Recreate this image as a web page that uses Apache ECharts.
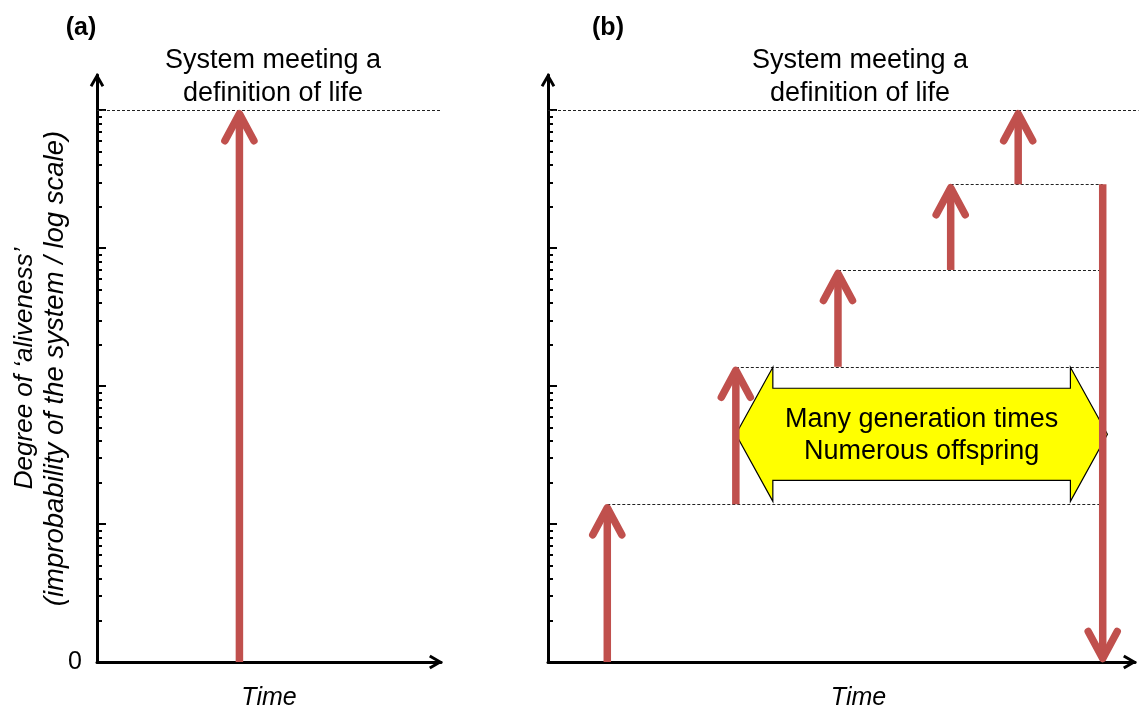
<!DOCTYPE html>
<html><head><meta charset="utf-8">
<script src="https://cdn.jsdelivr.net/npm/echarts@6/dist/echarts.min.js"></script>
<style>html,body{margin:0;padding:0;background:#fff}#c{width:1139px;height:708px}</style>
</head><body><div id="c"></div>
<script>
const FONT = "'Liberation Sans', Arial, sans-serif";
const RED = '#C0504D';

// ---- axis scale (degree of aliveness, log scale) ----
const yMin = 1;
const yMax = 18000;
const lifeThreshold = 10000;
const majorTicks = [10, 100, 1000, 10000];
const minorTicks = [2,3,4,5,6,7,8,9, 20,30,40,50,60,70,80,90, 200,300,400,500,600,700,800,900, 2000,3000,4000,5000,6000,7000,8000,9000];
const zeroLabel = [1];

// ---- panel (a) ----
const aArrowTime = [41.4];
const aArrowFrom = [1];
const aArrowTo = [10000];

// ---- panel (b) ----
const bArrowTime = [10.1, 32.0, 49.4, 68.6, 80.1, 94.5];
const bArrowFrom = [1, 13.9, 138, 695, 2904, 2904];
const bArrowTo   = [13.9, 138, 695, 2904, 10000, 1];
const bLevelStart = [10.1, 32.0, 49.4, 68.6];
const bLevelValue = [13.9, 138, 695, 2904];
const bLevelEnd = 94.5;
const bYellowX = [32.0, 95.3];
const bYellowY = [137, 14.6];
const yellowText = 'Many generation times\nNumerous offspring';

const arrowPath = 'path://M0,13 L7.5,0 L15,13 L12.4,14.6 L7.5,6 L2.6,14.6 Z';

function axisLineCfg() {
  return { show: true, onZero: false, symbol: ['none', arrowPath], symbolSize: [15, 14], symbolOffset: [0, -5],
           lineStyle: { color: '#000', width: 3 } };
}

function xAxisCfg(grid, shift) {
  return {
    type: 'value', gridIndex: grid, min: 0, max: 100,
    axisLine: axisLineCfg(), axisTick: { show: false }, axisLabel: { show: false }, splitLine: { show: false },
    name: 'Time', nameLocation: 'middle', nameGap: 24, nameMoveOverlap: false,
    nameTextStyle: { fontStyle: 'italic', fontSize: 25, fontFamily: FONT, color: '#000', padding: [0, 0, 0, shift] }
  };
}

function yMajor(grid, withName) {
  return {
    type: 'log', logBase: 10, gridIndex: grid, min: yMin, max: yMax, position: 'left',
    axisLine: axisLineCfg(),
    axisTick: { show: true, inside: true, length: 9, customValues: majorTicks, lineStyle: { color: '#000', width: 2 } },
    axisLabel: withName ? { show: true, customValues: zeroLabel, formatter: function () { return '0'; },
                            fontSize: 25, fontFamily: FONT, color: '#000', margin: 15 } : { show: false },
    splitLine: { show: false }, minorTick: { show: false },
    name: withName ? '{a|Degree of \u2018aliveness\u2019}\n{b|(improbability of the system / log scale)}' : '',
    nameLocation: 'middle', nameRotate: 90, nameGap: 26, nameMoveOverlap: false,
    nameTextStyle: { fontStyle: 'italic', fontSize: 26, fontFamily: FONT, color: '#000', lineHeight: 31,
      rich: { a: { fontStyle: 'italic', fontSize: 26, fontFamily: FONT, color: '#000', lineHeight: 31 },
              b: { fontStyle: 'italic', fontSize: 27.5, fontFamily: FONT, color: '#000', lineHeight: 31 } } }
  };
}
function yMinor(grid) {
  return {
    type: 'log', logBase: 10, gridIndex: grid, min: yMin, max: yMax, position: 'left', offset: 0,
    axisLine: { show: false },
    axisTick: { show: true, inside: true, length: 5, customValues: minorTicks, lineStyle: { color: '#000', width: 2 } },
    axisLabel: { show: false }, splitLine: { show: false }
  };
}

function renderArrow(params, api) {
  const x = api.value(0), y0 = api.value(1), y1 = api.value(2);
  const p0 = api.coord([x, y0]), p1 = api.coord([x, y1]);
  const dir = p1[1] < p0[1] ? -1 : 1;
  const tip = [p1[0], p1[1] - dir * 3.5];
  const style = { stroke: RED, lineWidth: 7.5, fill: null };
  return {
    type: 'group',
    children: [
      { type: 'line', shape: { x1: p0[0], y1: p0[1], x2: tip[0], y2: tip[1] }, style: Object.assign({ lineCap: 'butt' }, style) },
      { type: 'polyline', shape: { points: [[tip[0] - 14.5, tip[1] - dir * 27], tip, [tip[0] + 14.5, tip[1] - dir * 27]] },
        style: Object.assign({ lineCap: 'round', lineJoin: 'round' }, style) }
    ]
  };
}
function renderDash(params, api) {
  const a = api.coord([api.value(0), api.value(2)]);
  const b = api.coord([api.value(1), api.value(2)]);
  return { type: 'line', shape: { x1: a[0], y1: Math.round(a[1]) + 0.5, x2: b[0], y2: Math.round(a[1]) + 0.5 },
           style: { stroke: '#222', lineWidth: 1, lineDash: [3, 2] } };
}
function renderYellow(params, api) {
  const tl = api.coord([api.value(0), api.value(2)]);
  const br = api.coord([api.value(1), api.value(3)]);
  const x0 = tl[0], x1 = br[0], yt = tl[1], yb = br[1], ym = (yt + yb) / 2;
  const head = 37, inset = 21;
  const pts = [[x0, ym], [x0 + head, yt], [x0 + head, yt + inset], [x1 - head, yt + inset], [x1 - head, yt],
               [x1, ym], [x1 - head, yb], [x1 - head, yb - inset], [x0 + head, yb - inset], [x0 + head, yb]];
  return {
    type: 'group',
    children: [
      { type: 'polygon', shape: { points: pts }, style: { fill: '#FFFF00', stroke: '#000', lineWidth: 1.2 } },
      { type: 'text', x: (x0 + x1) / 2, y: ym + 1,
        style: { text: yellowText, align: 'center', verticalAlign: 'middle', textAlign: 'center', textVerticalAlign: 'middle',
                 fontSize: 27, fontFamily: FONT, fill: '#000', lineHeight: 32 } }
    ]
  };
}

const aArrows = aArrowTime.map((t, i) => [t, aArrowFrom[i], aArrowTo[i]]);
const bArrows = bArrowTime.map((t, i) => [t, bArrowFrom[i], bArrowTo[i]]);
const aDash = [[0, 100, lifeThreshold]];
const bDash = [[0, 100.6, lifeThreshold]].concat(bLevelStart.map((s, i) => [s, bLevelEnd, bLevelValue[i]]));

function titleText(x, y, text, bold, size, lh) {
  return { type: 'text', x: x, y: y, silent: true,
           style: { text: text, align: 'center', verticalAlign: 'middle', textAlign: 'center', textVerticalAlign: 'middle',
                    fontSize: size, fontWeight: bold ? 'bold' : 'normal', fontFamily: FONT, fill: '#000', lineHeight: lh } };
}

const chart = echarts.init(document.getElementById('c'), null, { renderer: 'canvas' });
chart.setOption({
  animation: false,
  backgroundColor: '#fff',
  grid: [
    { left: 97, top: 75, width: 344, bottom: 46, containLabel: false, outerBoundsMode: 'none' },
    { left: 548, top: 75, right: 4, bottom: 46, containLabel: false, outerBoundsMode: 'none' }
  ],
  xAxis: [xAxisCfg(0, 0), xAxisCfg(1, 34)],
  yAxis: [yMajor(0, true), yMinor(0), yMajor(1, false), yMinor(1)],
  graphic: [
    titleText(81, 28, '(a)', true, 25, 30),
    titleText(608, 28, '(b)', true, 25, 30),
    titleText(273, 77, 'System meeting a\ndefinition of life', false, 27, 33),
    titleText(860, 77, 'System meeting a\ndefinition of life', false, 27, 33)
  ],
  series: [
    { type: 'custom', name: 'threshold a', xAxisIndex: 0, yAxisIndex: 0, clip: false, z: 1,
      encode: { x: [0, 1], y: 2 }, data: aDash, renderItem: renderDash },
    { type: 'custom', name: 'levels b', xAxisIndex: 1, yAxisIndex: 2, clip: false, z: 1,
      encode: { x: [0, 1], y: 2 }, data: bDash, renderItem: renderDash },
    { type: 'custom', name: 'yellow', xAxisIndex: 1, yAxisIndex: 2, clip: false, z: 2,
      encode: { x: [0, 1], y: [2, 3] }, data: [[bYellowX[0], bYellowX[1], bYellowY[0], bYellowY[1]]], renderItem: renderYellow },
    { type: 'custom', name: 'arrows a', xAxisIndex: 0, yAxisIndex: 0, clip: false, z: 3,
      encode: { x: 0, y: [1, 2] }, data: aArrows, renderItem: renderArrow },
    { type: 'custom', name: 'arrows b', xAxisIndex: 1, yAxisIndex: 2, clip: false, z: 3,
      encode: { x: 0, y: [1, 2] }, data: bArrows, renderItem: renderArrow }
  ]
});
</script></body></html>
